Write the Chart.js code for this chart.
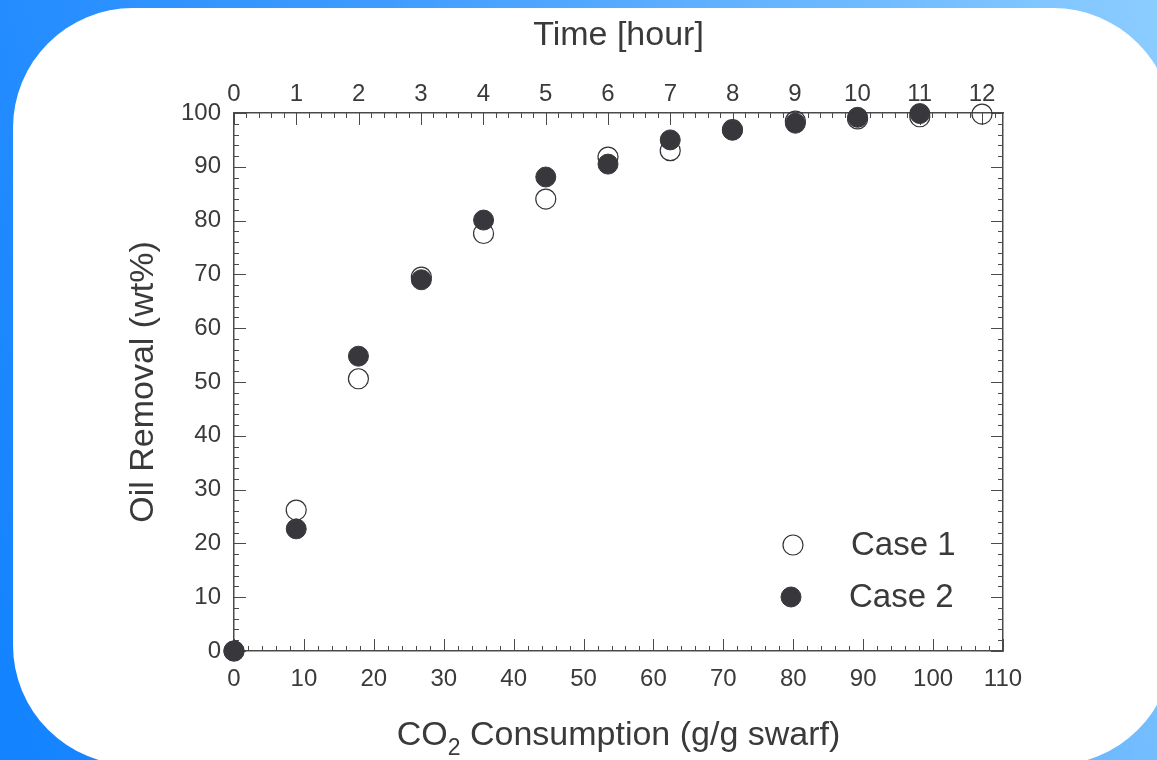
<!DOCTYPE html>
<html>
<head>
<meta charset="utf-8">
<script src="https://cdn.jsdelivr.net/npm/chart.js@4.4.1/dist/chart.umd.min.js"></script>
<style>
html, body { margin: 0; padding: 0; width: 1157px; height: 760px; overflow: hidden; }
body { position: relative; background: linear-gradient(72deg, #1282ff 0%, #3f9cff 45%, #8ccdff 100%); }
#panel { position: absolute; left: 13px; top: 8px; width: 1160px; height: 757px; background: #fff; border-radius: 120px; }
#wrap { position: absolute; left: 0; top: 0; width: 1157px; height: 760px; }
</style>
</head>
<body>
<div id="panel"></div>
<div id="wrap"><canvas id="oil_chart" width="1157" height="760"></canvas></div>
<script>
// values
var co2_consumption = [0, 8.9, 17.8, 26.8, 35.7, 44.6, 53.5, 62.4, 71.3, 80.3, 89.2, 98.1, 107.0];
var case1_removal = [0, 26.2, 50.6, 69.5, 77.6, 84.0, 91.8, 93.0, 96.9, 98.5, 98.9, 99.3, 99.8];
var case2_removal = [0, 22.7, 54.8, 69.0, 80.1, 88.1, 90.5, 95.0, 96.8, 98.1, 99.2, 99.9];
var hour_ticks = [0, 1, 2, 3, 4, 5, 6, 7, 8, 9, 10, 11, 12];
var co2_per_hour = 8.917;
var series_names = ['Case 1', 'Case 2'];

var FONT = '"Liberation Sans", Arial, Helvetica, sans-serif';
var INK = '#3a3a3c';
var AXIS = '#4a4a4a';

function toPoints(xs, ys) {
    return ys.map(function (y, i) { return {x: xs[i], y: y}; });
}

// tick marks drawn on the inside of the frame
function drawInsideTicks(ctx, scale, major, minor, horizontal, edge, dir) {
    var n = Math.floor((scale.max - scale.min) / minor + 1e-6);
    for (var k = 0; k <= n; k++) {
        var v = scale.min + k * minor;
        var isMajor = Math.abs(v / major - Math.round(v / major)) < 1e-6;
        var len = isMajor ? 12 : 5;
        var p = Math.round(scale.getPixelForValue(v)) + 0.5;
        ctx.beginPath();
        if (horizontal) {
            ctx.moveTo(p, edge);
            ctx.lineTo(p, edge + dir * len);
        } else {
            ctx.moveTo(edge, p);
            ctx.lineTo(edge + dir * len, p);
        }
        ctx.stroke();
    }
}

var insideTicks = {
    id: 'insideTicks',
    beforeDatasetsDraw: function (chart) {
        var ctx = chart.ctx, a = chart.chartArea, s = chart.scales;
        ctx.save();
        ctx.strokeStyle = AXIS;
        ctx.lineWidth = 1;
        drawInsideTicks(ctx, s.x, 10, 2, true, a.bottom, -1);
        drawInsideTicks(ctx, s.x2, 1, 0.2, true, a.top, 1);
        drawInsideTicks(ctx, s.y, 10, 2, false, a.left, 1);
        drawInsideTicks(ctx, s.y2, 10, 2, false, a.right, -1);
        ctx.restore();
    }
};

var caseLegend = {
    id: 'caseLegend',
    afterDatasetsDraw: function (chart) {
        var ctx = chart.ctx, a = chart.chartArea;
        var rows = [{mx: a.left + 559, tx: a.left + 617, y: a.top + 432},
                    {mx: a.left + 557, tx: a.left + 615, y: a.top + 484}];
        ctx.save();
        chart.data.datasets.forEach(function (ds, i) {
            var r = rows[i];
            ctx.beginPath();
            ctx.arc(r.mx, r.y, ds.pointRadius, 0, Math.PI * 2);
            ctx.fillStyle = ds.pointBackgroundColor;
            ctx.fill();
            ctx.lineWidth = ds.pointBorderWidth;
            ctx.strokeStyle = ds.pointBorderColor;
            ctx.stroke();
            ctx.fillStyle = INK;
            ctx.font = '33px ' + FONT;
            ctx.textBaseline = 'middle';
            ctx.textAlign = 'left';
            ctx.fillText(ds.label, r.tx, r.y + 1);
        });
        ctx.restore();
    }
};

// bottom title needs a subscript, so it is drawn by hand
var co2Title = {
    id: 'co2Title',
    afterDraw: function (chart) {
        var ctx = chart.ctx, a = chart.chartArea;
        var big = '34px ' + FONT, small = '23px ' + FONT;
        var cx = (a.left + a.right) / 2, base = 745;
        ctx.save();
        ctx.fillStyle = INK;
        ctx.textBaseline = 'alphabetic';
        ctx.textAlign = 'left';
        ctx.font = big;
        var w1 = ctx.measureText('CO').width;
        var w3 = ctx.measureText(' Consumption (g/g swarf)').width;
        ctx.font = small;
        var w2 = ctx.measureText('2').width;
        var x = cx - (w1 + w2 + w3) / 2;
        ctx.font = big;
        ctx.fillText('CO', x, base);
        ctx.font = small;
        ctx.fillText('2', x + w1, base + 10);
        ctx.font = big;
        ctx.fillText(' Consumption (g/g swarf)', x + w1 + w2, base);
        ctx.restore();
    }
};

var tickFont = {family: FONT, size: 24};
var hiddenGrid = {display: true, drawOnChartArea: false, drawTicks: false};
var frame = {display: true, color: AXIS, width: 1.5};

var oil_config = {
    type: 'scatter',
    data: {
        datasets: [{
            label: series_names[0],
            data: toPoints(co2_consumption, case1_removal),
            pointRadius: 10,
            pointHoverRadius: 10,
            pointBackgroundColor: 'rgba(255,255,255,0)',
            pointBorderColor: '#333336',
            pointBorderWidth: 1.2,
            clip: false,
            order: 1
        }, {
            label: series_names[1],
            data: toPoints(co2_consumption, case2_removal),
            pointRadius: 10,
            pointHoverRadius: 10,
            pointBackgroundColor: '#38373c',
            pointBorderColor: '#38373c',
            pointBorderWidth: 1,
            clip: false,
            order: 0
        }]
    },
    options: {
        responsive: false,
        animation: false,
        layout: {padding: 0},
        plugins: {
            legend: {display: false},
            tooltip: {enabled: false}
        },
        scales: {
            x: {
                type: 'linear', position: 'bottom',
                min: 0, max: 110,
                ticks: {stepSize: 10, color: INK, font: tickFont, padding: 14, maxRotation: 0},
                grid: hiddenGrid, border: frame,
                afterFit: function (s) { s.height = 109; }
            },
            x2: {
                type: 'linear', position: 'top',
                min: 0, max: 110 / co2_per_hour,
                ticks: {color: INK, font: tickFont, padding: 4, maxRotation: 0},
                afterBuildTicks: function (s) { s.ticks = hour_ticks.map(function (v) { return {value: v}; }); },
                grid: hiddenGrid, border: frame,
                title: {display: true, text: 'Time [hour]', color: INK, font: {family: FONT, size: 34}, padding: {top: 15, bottom: 0}},
                afterFit: function (s) { s.height = 113; }
            },
            y: {
                type: 'linear', position: 'left',
                min: 0, max: 100,
                ticks: {stepSize: 10, color: INK, font: tickFont, padding: 13},
                grid: hiddenGrid, border: frame,
                title: {display: true, text: 'Oil Removal (wt%)', color: INK, font: {family: FONT, size: 34}, padding: {top: 123, bottom: 0}},
                afterFit: function (s) { s.width = 234; }
            },
            y2: {
                type: 'linear', position: 'right',
                min: 0, max: 100,
                ticks: {display: false, stepSize: 10},
                grid: hiddenGrid, border: frame,
                afterFit: function (s) { s.width = 154; }
            }
        }
    },
    plugins: [insideTicks, caseLegend, co2Title]
};

var oil_ctx = document.getElementById('oil_chart').getContext('2d');
var oilchart = new Chart(oil_ctx, oil_config);
</script>
</body>
</html>
